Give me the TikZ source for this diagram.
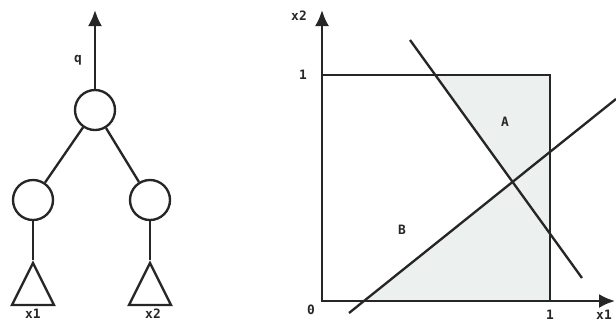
\documentclass[tikz,border=0pt]{standalone}
\usepackage{fontspec}
\setmonofont{DejaVu Sans Mono}
\usepackage{tikz}
\usetikzlibrary{arrows.meta, positioning, shapes.geometric}
\definecolor{myink}{HTML}{262626}
\definecolor{myshade}{HTML}{ECF1F0}
\tikzset{
unit/.style={
draw=myink,
circle,
line width=2pt,
minimum size=1.2cm,
inner sep=0pt
},
leaf/.style={
draw=myink,
isosceles triangle,
isosceles triangle stretches,
shape border rotate=90,
line width=2pt,
minimum width=1.26cm,
minimum height=1.26cm,
inner sep=0pt
},
wire/.style={
draw=myink,
line width=2pt
},
arrow/.style={
-{Latex[length=4.8mm,width=4.2mm]},
line width=2pt,
draw=myink
},
labelbox/.style={
font=\fontsize{11}{13}\selectfont\ttfamily\bfseries,
text=myink,
inner sep=1pt
}
}

\begin{document}
\begin{tikzpicture}[x=0.03cm, y=-0.03cm]
\useasboundingbox (0,0) rectangle (616,322);

% network
\node[unit] (root) at (95,110) {};
\node[unit] (left) at (33,200) {};
\node[unit] (right) at (150,200) {};
\node[leaf, anchor=apex] (in1) at (33,260) {};
\node[leaf, anchor=apex] (in2) at (150,260) {};
\coordinate (out) at (95,10);
\draw[arrow] (root) -- (out);
\draw[wire] (root) -- (left);
\draw[wire] (root) -- (right);
\draw[wire] (left) -- (in1.apex);
\draw[wire] (right) -- (in2.apex);
\node[labelbox] (q) at (78,60) {q};
\node[labelbox] (x1) at (33,314) {x1};
\node[labelbox] (x2) at (153,314) {x2};

% unit square and the two lines
\coordinate (o) at (322,301);
\coordinate (c) at (550,75);
\coordinate (a1) at (410,40);
\coordinate (a2) at (582,278);
\coordinate (b1) at (349,313);
\coordinate (b2) at (616,99);
\coordinate (atop) at (intersection of a1--a2 and 322,75--550,75);
\coordinate (bbot) at (intersection of b1--b2 and 322,301--550,301);
\coordinate (ab) at (intersection of a1--a2 and b1--b2);
\fill[myshade] (atop) -- (c) -- (550,301) -- (bbot) -- (ab) -- cycle;
\draw[wire] (o) rectangle (c);
\draw[wire] (a1) -- (a2);
\draw[wire] (b1) -- (b2);
\draw[arrow] (o) -- (615,301);
\draw[arrow] (o) -- (322,10);

\node[labelbox] (lx2) at (299,16) {x2};
\node[labelbox] (lx1) at (604,315) {x1};
\node[labelbox] (one2) at (303,75) {1};
\node[labelbox] (one1) at (550,315) {1};
\node[labelbox] (zero) at (311,310) {0};
\node[labelbox] (la) at (505,122) {A};
\node[labelbox] (lb) at (402,230) {B};

\end{tikzpicture}
\end{document}
